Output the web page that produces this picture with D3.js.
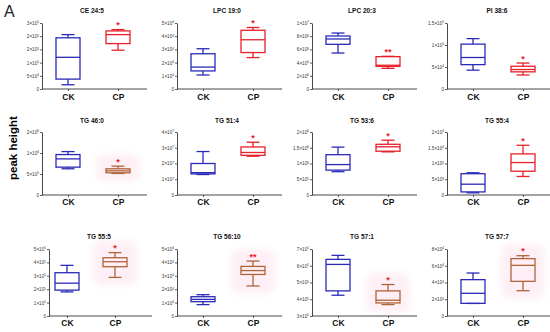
<!DOCTYPE html>
<html>
<head>
<meta charset="utf-8">
<script src="https://cdn.jsdelivr.net/npm/d3@7"></script>
<style>
 body { margin:0; background:#fff; }
 svg { display:block; font-family:"Liberation Sans", Arial, sans-serif; }
</style>
</head>
<body>
<div class="chart"></div>
<script>
// panel titles
var titles = ["CE 24:5","LPC 19:0","LPC 20:3","PI 38:6",
              "TG 46:0","TG 51:4","TG 53:6","TG 55:4",
              "TG 55:5","TG 56:10","TG 57:1","TG 57:7"];
var groups = ["CK","CP"];

// box stats: [min, q1, median, q3, max]
var ckStats = [
  [16000, 37500, 120000, 194000, 206000],
  [10600, 13700, 16600, 26700, 30500],
  [5.45e6, 6.77e6, 7.58e6, 8.03e6, 8.48e6],
  [42800, 55400, 71600, 102000, 114500],
  [6.24e5, 6.63e5, 8.6e5, 9.63e5, 1.034e6],
  [1.30e7, 1.34e7, 1.42e7, 2.0e7, 2.76e7],
  [7.4e5, 7.9e5, 9.66e5, 1.28e6, 1.52e6],
  [690, 980, 3430, 6760, 7060],
  [1.8e5, 1.93e5, 2.45e5, 3.23e5, 3.78e5],
  [8500, 10700, 12400, 14400, 15900],
  [4.24e5, 4.5e5, 6.08e5, 6.38e5, 6.62e5],
  [1.5e4, 1.51e4, 2.71e4, 4.34e4, 5.13e4]
];
var cpStats = [
  [147000, 172000, 206000, 220000, 225000],
  [23800, 27600, 37300, 44500, 46600],
  [3.13e6, 3.43e6, 3.6e6, 4.9e6, 4.95e6],
  [31800, 39000, 44300, 51700, 59000],
  [5.13e5, 5.29e5, 5.76e5, 6.24e5, 6.87e5],
  [2.46e7, 2.52e7, 2.70e7, 3.05e7, 3.35e7],
  [1.37e6, 1.39e6, 1.53e6, 1.61e6, 1.74e6],
  [5880, 7550, 10300, 13040, 15780],
  [2.88e5, 3.68e5, 4.05e5, 4.35e5, 4.73e5],
  [22400, 31000, 33900, 37000, 41000],
  [3.68e5, 3.78e5, 3.94e5, 4.5e5, 4.88e5],
  [3.02e4, 4.14e4, 6.05e4, 6.85e4, 7.2e4]
];
var stars = ["*","*","**","*","*","*","*","*","*","**","*","*"];

// y ticks
var tickValues = [
  [0,5e4,1e5,1.5e5,2e5,2.5e5],
  [0,1e4,2e4,3e4,4e4,5e4],
  [0,2e6,4e6,6e6,8e6,1e7],
  [0,5e4,1e5,1.5e5],
  [0,5e5,1e6,1.5e6],
  [0,1e7,2e7,3e7,4e7],
  [0,5e5,1e6,1.5e6,2e6],
  [0,5e3,1e4,1.5e4,2e4],
  [0,1e5,2e5,3e5,4e5,5e5],
  [0,1e4,2e4,3e4,4e4,5e4],
  [3e5,4e5,5e5,6e5,7e5],
  [0,2e4,4e4,6e4,8e4]
];
var tickLabels = [
  ["0","5×10^4","1×10^5","2×10^5","2×10^5","3×10^5"],
  ["0","1×10^4","2×10^4","3×10^4","4×10^4","5×10^4"],
  ["0","2×10^6","4×10^6","6×10^6","8×10^6","1×10^7"],
  ["0","5×10^4","1×10^5","1.5×10^5"],
  ["0","5×10^5","1×10^6","2×10^6"],
  ["0","1×10^7","2×10^7","3×10^7","4×10^7"],
  ["0","5×10^5","1×10^6","1.5×10^6","2×10^6"],
  ["0","5×10^3","1×10^4","1.5×10^4","2×10^4"],
  ["0","1×10^5","2×10^5","3×10^5","4×10^5","5×10^5"],
  ["0","1×10^4","2×10^4","3×10^4","4×10^4","5×10^4"],
  ["3×10^5","4×10^5","5×10^5","6×10^5","7×10^5"],
  ["0","2×10^4","4×10^4","6×10^4","8×10^4"]
];
// which CP boxes are drawn brown on pink
var cpBrown = [false,false,false,false,true,false,false,false,true,true,true,true];

var W = 550, H = 332;
var colX = [42, 177, 312, 447];
var rows = [{top:23, zero:89, title:13, cat:100},
            {top:132, zero:195, title:123, cat:205},
            {top:249, zero:316, title:239, cat:326}];
var blue = "#2a2ab8", red = "#e8202a", brown = "#b0643a";

var svg = d3.select(".chart").append("svg")
  .attr("width", W).attr("height", H);

var defs = svg.append("defs");
defs.append("filter").attr("id","soft")
  .attr("x","-50%").attr("y","-50%").attr("width","200%").attr("height","200%")
  .append("feGaussianBlur").attr("stdDeviation", 3);

svg.append("text").attr("x", 4).attr("y", 17)
  .attr("font-size", 16).attr("fill", "#222").text("A");

svg.append("text")
  .attr("transform", "translate(17,148) rotate(-90)")
  .attr("text-anchor", "middle")
  .attr("font-size", 11.5).attr("font-weight", "bold")
  .text("peak height");

titles.forEach(function(t, i) {
  var r = rows[Math.floor(i / 4)];
  var x0 = colX[i % 4];
  var x1 = x0 + 105;
  var pts = [x0 + 26, x0 + 76];
  if (i === 8) { x0 = 49; x1 = 152; pts = [67, 115]; }

  var y = d3.scaleLinear()
    .domain([tickValues[i][0], tickValues[i][tickValues[i].length - 1]])
    .range([r.zero, r.top]);
  var x = d3.scalePoint().domain(groups).range(pts);

  var g = svg.append("g");

  // pink glow behind brown boxes
  if (cpBrown[i]) {
    var s = cpStats[i];
    g.append("rect")
      .attr("x", x("CP") - 22).attr("width", 44)
      .attr("y", y(s[4]) - 12).attr("height", y(s[0]) - y(s[4]) + 20)
      .attr("rx", 8)
      .attr("fill", "#fde6ef").attr("opacity", 0.6)
      .attr("filter", "url(#soft)");
  }

  // y axis
  var yAxis = d3.axisLeft(y).tickValues(tickValues[i]).tickSize(2).tickSizeOuter(0);
  var ya = g.append("g").attr("transform", "translate(" + x0 + ",0)").call(yAxis);
  ya.select(".domain").attr("stroke", "#333").attr("stroke-width", 0.9);
  ya.selectAll(".tick line").attr("stroke", "#333").attr("stroke-width", 0.8);
  ya.selectAll(".tick text").remove();
  ya.selectAll(".tick").each(function(v, k) {
    var lab = tickLabels[i][k].split("^");
    var tx = d3.select(this).append("text")
      .attr("x", -3).attr("dy", "0.32em")
      .attr("text-anchor", "end")
      .attr("font-size", 4.6).attr("fill", "#333");
    if (lab.length > 1) {
      tx.append("tspan").text(lab[0]);
      tx.append("tspan").attr("dy", -1.6).attr("font-size", 3.2).text(lab[1]);
    } else {
      tx.text(lab[0]);
    }
  });

  // x axis
  var xa = g.append("g").attr("transform", "translate(0," + r.zero + ")")
    .call(d3.axisBottom(x).tickSize(2).tickSizeOuter(0));
  xa.select(".domain").remove();
  xa.append("line").attr("x1", x0).attr("x2", x1)
    .attr("stroke", "#333").attr("stroke-width", 0.9);
  xa.selectAll(".tick line").attr("stroke", "#333").attr("stroke-width", 0.8);
  xa.selectAll(".tick text")
    .attr("y", r.cat - r.zero).attr("dy", 0)
    .attr("font-size", 8.5).attr("font-weight", "bold").attr("fill", "#111");

  // title
  g.append("text").attr("x", x0 + 50).attr("y", r.title)
    .attr("text-anchor", "middle")
    .attr("font-size", 6.5).attr("font-weight", "bold").attr("fill", "#111")
    .text(t);

  // boxes
  var bw = 24, cw = 13;
  [[ckStats[i], "CK", blue], [cpStats[i], "CP", cpBrown[i] ? brown : red]].forEach(function(b) {
    var s = b[0], cx = x(b[1]), col = b[2];
    var bg = g.append("g").attr("stroke", col).attr("stroke-width", 1.3).attr("fill", "none");
    bg.append("line").attr("x1", cx).attr("x2", cx).attr("y1", y(s[0])).attr("y2", y(s[1]));
    bg.append("line").attr("x1", cx).attr("x2", cx).attr("y1", y(s[3])).attr("y2", y(s[4]));
    bg.append("line").attr("x1", cx - cw / 2).attr("x2", cx + cw / 2).attr("y1", y(s[0])).attr("y2", y(s[0]));
    bg.append("line").attr("x1", cx - cw / 2).attr("x2", cx + cw / 2).attr("y1", y(s[4])).attr("y2", y(s[4]));
    bg.append("rect").attr("x", cx - bw / 2).attr("width", bw)
      .attr("y", y(s[3])).attr("height", y(s[1]) - y(s[3]));
    bg.append("line").attr("x1", cx - bw / 2).attr("x2", cx + bw / 2).attr("y1", y(s[2])).attr("y2", y(s[2]));
  });

  // significance
  g.append("text").attr("x", x("CP")).attr("y", y(cpStats[i][4]) - 1.5)
    .attr("text-anchor", "middle")
    .attr("font-size", 9).attr("font-weight", "bold").attr("fill", red)
    .text(stars[i]);
});
</script>
</body>
</html>
